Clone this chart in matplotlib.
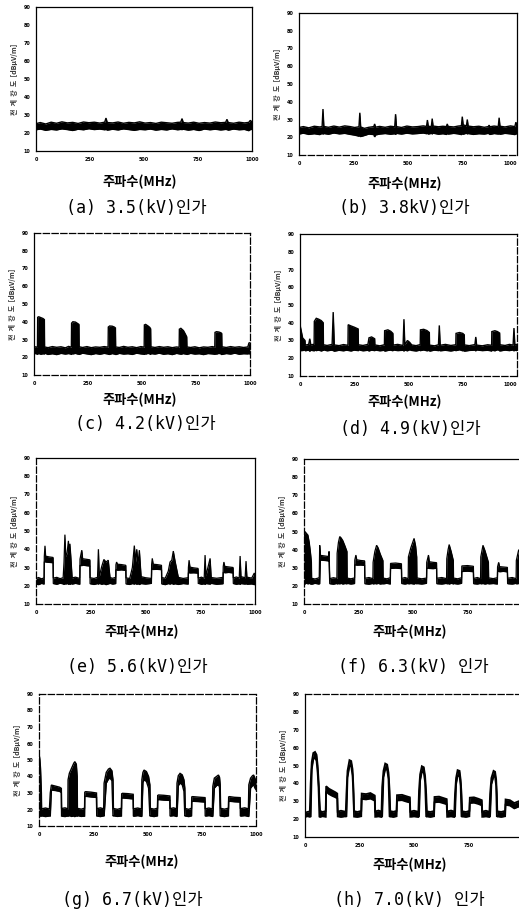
import matplotlib
matplotlib.use('Agg')
import matplotlib.pyplot as plt

plt.rcParams['font.family'] = ['Noto Sans CJK KR', 'DejaVu Sans']

# ---------------- axes / text content ----------------
freq_ticks = [0, 250, 500, 750, 1000]
freq_tick_labels = ['0', '250', '500', '750', '1000']
level_ticks = [10, 20, 30, 40, 50, 60, 70, 80, 90]
level_tick_labels = ['10', '20', '30', '40', '50', '60', '70', '80', '90']
x_label = '주파수(MHz)'
y_label = '전  계  강  도  [dBμV/m]'
captions = ['(a) 3.5(kV)인가', '(b) 3.8kV)인가', '(c) 4.2(kV)인가', '(d) 4.9(kV)인가',
            '(e) 5.6(kV)인가', '(f) 6.3(kV) 인가', '(g) 6.7(kV)인가', '(h) 7.0(kV) 인가']

# ---------------- traces: frequency, upper and lower envelope of the trace ----------------
a_x = [0, 20, 45, 70, 95, 120, 145, 170, 195, 220, 245, 270, 295, 318, 324, 330, 355, 380, 405, 430,
       455, 480, 505, 530, 555, 580, 605, 630, 655, 670, 676, 682, 705, 730, 755, 780, 805, 830, 855, 878,
       884, 890, 915, 940, 965, 985, 992, 1000]
a_hi = [25.2, 25.8, 25.0, 26.0, 25.4, 26.2, 25.6, 25.9, 25.3, 26.1, 25.7, 26.0, 25.5, 26.0, 28.3, 25.8, 25.6, 26.1, 25.4, 25.9,
        25.6, 26.2, 25.5, 25.8, 25.3, 26.0, 25.7, 25.4, 25.9, 26.0, 28.0, 25.8, 25.5, 26.0, 25.4, 25.8, 25.5, 26.1, 25.7, 25.9,
        27.6, 25.8, 25.4, 26.0, 25.6, 25.9, 27.0, 26.2]
a_lo = [21.8, 22.2, 21.5, 22.0, 21.7, 22.3, 21.9, 21.4, 22.1, 21.8, 22.4, 21.9, 22.2, 21.8, 22.0, 21.6, 22.1, 21.7, 22.3, 21.9,
        21.5, 22.0, 21.8, 22.2, 21.6, 22.0, 21.7, 22.3, 21.8, 22.0, 21.9, 22.1, 21.6, 22.0, 21.4, 22.2, 21.8, 22.1, 21.7, 22.0,
        21.9, 21.6, 22.2, 21.8, 22.0, 21.3, 21.9, 22.0]

b_x = [0, 20, 45, 70, 95, 106, 110, 114, 135, 160, 185, 210, 235, 255, 275, 279, 283, 300, 320, 343,
       347, 351, 370, 395, 420, 439, 443, 447, 470, 495, 520, 545, 570, 585, 589, 593, 607, 611, 615, 640,
       660, 676, 680, 684, 710, 730, 745, 749, 753, 768, 772, 776, 800, 825, 850, 868, 872, 876, 895, 914,
       918, 922, 945, 970, 990, 995, 1000]
b_hi = [25.5, 26.0, 25.3, 26.2, 25.8, 26.0, 35.9, 26.1, 25.6, 26.3, 25.7, 26.4, 26.0, 25.5, 25.9, 33.8, 25.8, 25.0, 25.6, 26.0,
        27.5, 25.7, 26.1, 25.6, 26.2, 25.9, 33.0, 26.0, 25.5, 26.3, 25.8, 26.0, 26.4, 26.1, 29.7, 26.2, 26.0, 30.5, 26.3, 25.9,
        26.2, 26.0, 27.5, 26.1, 25.8, 26.3, 26.5, 31.6, 27.0, 26.4, 30.0, 26.3, 25.9, 26.2, 25.6, 26.0, 26.8, 25.9, 26.3, 26.0,
        31.0, 26.2, 25.8, 26.4, 26.0, 28.5, 26.5]
b_lo = [21.8, 22.3, 21.6, 22.0, 21.5, 22.2, 21.8, 22.1, 21.7, 22.4, 21.9, 22.2, 21.6, 21.2, 20.6, 21.0, 20.4, 21.0, 21.8, 21.5,
        20.2, 21.3, 21.8, 22.1, 21.7, 22.0, 21.6, 22.2, 21.8, 22.3, 21.9, 22.1, 22.4, 22.0, 22.3, 21.8, 22.2, 21.9, 22.3, 21.7,
        22.0, 21.6, 22.1, 21.8, 22.2, 21.9, 21.5, 22.0, 21.7, 22.3, 21.9, 22.1, 21.6, 22.0, 21.8, 22.2, 21.9, 21.6, 22.1, 21.8,
        22.0, 21.7, 22.2, 21.9, 21.5, 22.0, 21.8]

c_x = [0, 8, 16, 17, 22, 32, 42, 48, 49, 65, 85, 105, 125, 145, 160, 173, 174, 180, 192, 202,
       208, 209, 225, 245, 265, 285, 305, 325, 343, 344, 350, 362, 372, 377, 378, 395, 415, 435, 455, 475,
       495, 510, 511, 517, 528, 536, 540, 541, 560, 580, 600, 620, 640, 660, 672, 673, 680, 692, 700, 707,
       708, 725, 745, 765, 785, 805, 825, 837, 838, 845, 856, 865, 869, 870, 890, 910, 930, 950, 970, 990,
       995, 1000]
c_hi = [25.3, 25.9, 25.5, 42.5, 42.8, 42.3, 41.8, 41.2, 25.8, 25.4, 26.0, 25.6, 25.9, 25.3, 26.1, 25.7, 39.2, 40.0, 39.8, 39.0,
        38.5, 25.9, 25.5, 26.0, 25.4, 25.8, 25.6, 26.0, 25.7, 37.0, 37.6, 37.5, 37.0, 36.5, 25.8, 25.5, 26.1, 25.6, 25.9, 25.4,
        26.0, 25.7, 38.2, 38.5, 37.6, 36.8, 36.0, 25.9, 25.5, 26.0, 25.6, 25.9, 25.4, 25.8, 25.6, 35.8, 36.3, 35.0, 33.2, 31.5,
        25.8, 25.5, 25.9, 25.3, 25.8, 25.6, 26.0, 25.7, 34.0, 34.4, 34.2, 33.8, 33.4, 25.9, 25.5, 26.0, 25.6, 25.9, 25.5, 25.8,
        28.0, 28.2]
c_lo = [21.8, 22.2, 21.6, 21.9, 22.1, 21.7, 22.0, 21.8, 22.3, 21.6, 22.0, 21.5, 22.2, 21.8, 22.1, 21.7, 22.0, 21.9, 22.2, 21.8,
        22.0, 21.6, 22.3, 21.9, 21.5, 22.1, 21.7, 22.2, 21.8, 22.0, 21.6, 22.1, 21.8, 22.0, 21.5, 22.2, 21.8, 22.0, 21.6, 22.3,
        21.9, 21.7, 22.0, 21.8, 22.2, 21.9, 21.6, 22.1, 21.8, 22.3, 21.7, 22.0, 21.5, 22.2, 21.9, 22.0, 21.7, 22.1, 21.8, 22.0,
        21.6, 22.2, 21.8, 22.0, 21.5, 22.1, 21.9, 21.7, 22.0, 21.8, 22.2, 21.9, 22.0, 21.6, 22.1, 21.8, 22.3, 21.7, 22.0, 21.9,
        22.1, 21.8]

d_x = [0, 3, 8, 12, 23, 24, 40, 45, 50, 65, 66, 75, 86, 98, 107, 108, 125, 148, 153, 158,
       180, 200, 221, 222, 235, 250, 268, 269, 290, 313, 318, 330, 344, 345, 368, 389, 390, 405, 418, 428,
       429, 450, 475, 479, 483, 495, 505, 515, 535, 554, 555, 570, 585, 596, 597, 620, 638, 642, 646, 670,
       695, 718, 719, 735, 750, 757, 758, 780, 806, 810, 814, 840, 865, 883, 884, 898, 910, 920, 921, 945,
       965, 982, 986, 990, 1000]
d_hi = [38.9, 37.0, 34.0, 31.5, 30.0, 27.4, 27.8, 31.0, 27.5, 27.9, 40.8, 42.5, 42.0, 41.2, 40.0, 27.6, 27.2, 27.8, 46.0, 27.5,
        27.1, 27.7, 27.3, 38.9, 38.2, 37.5, 36.5, 27.6, 27.2, 27.8, 31.5, 32.0, 31.0, 27.5, 27.0, 27.6, 35.5, 36.0, 35.2, 34.0,
        27.4, 27.8, 27.2, 42.0, 27.6, 30.0, 29.0, 27.5, 27.1, 27.7, 36.0, 36.3, 35.6, 34.5, 27.4, 27.0, 27.6, 38.5, 27.3, 27.8,
        27.2, 27.6, 34.0, 34.5, 34.0, 33.2, 27.5, 27.1, 27.7, 32.0, 27.4, 27.0, 27.6, 27.3, 35.0, 35.5, 35.0, 34.2, 27.6, 27.2,
        27.8, 27.4, 37.0, 27.6, 27.8]
d_lo = [24.5, 24.1, 24.6, 24.3, 24.8, 24.2, 24.6, 24.0, 24.5, 24.2, 24.7, 24.3, 24.6, 24.1, 24.5, 24.8, 24.2, 24.6, 24.3, 24.0,
        24.5, 24.2, 24.7, 24.4, 24.1, 24.6, 24.3, 24.8, 24.2, 24.5, 24.1, 24.6, 24.3, 24.7, 24.2, 24.5, 24.0, 24.4, 24.6, 24.2,
        24.7, 24.3, 24.5, 24.1, 24.6, 24.2, 24.8, 24.4, 24.1, 24.6, 24.3, 24.7, 24.2, 24.5, 24.0, 24.6, 24.3, 24.7, 24.2, 24.5,
        24.1, 24.6, 24.3, 24.8, 24.2, 24.5, 24.0, 24.4, 24.6, 24.2, 24.7, 24.3, 24.5, 24.1, 24.6, 24.2, 24.8, 24.4, 24.1, 24.6,
        24.3, 24.7, 24.2, 24.5, 24.3]

e_x = [0, 12, 25, 37, 38, 41, 44, 60, 78, 79, 95, 110, 124, 128, 132, 136, 142, 148, 152, 155,
       160, 165, 180, 200, 201, 209, 213, 230, 246, 247, 265, 281, 285, 289, 300, 310, 320, 330, 338, 350,
       364, 365, 368, 372, 390, 410, 411, 428, 440, 449, 455, 460, 466, 472, 480, 500, 527, 528, 531, 535,
       552, 573, 574, 590, 604, 612, 620, 627, 635, 650, 672, 695, 696, 699, 703, 720, 740, 741, 756, 768,
       772, 776, 795, 800, 825, 854, 855, 858, 862, 880, 900, 901, 915, 928, 932, 936, 955, 959, 963, 985,
       997, 1000]
e_hi = [24.0, 24.5, 23.8, 24.3, 36.0, 41.9, 36.2, 35.8, 35.5, 24.2, 24.6, 23.9, 24.4, 33.0, 48.0, 36.0, 38.0, 44.6, 37.0, 43.0,
        34.0, 24.3, 24.7, 24.0, 34.6, 39.5, 34.8, 34.5, 34.2, 24.4, 24.0, 24.6, 40.0, 25.0, 30.5, 34.4, 33.0, 34.0, 24.5, 24.1,
        24.6, 31.5, 33.0, 31.8, 31.6, 31.2, 24.3, 24.0, 30.0, 42.0, 33.0, 40.0, 32.0, 39.5, 25.0, 24.4, 24.0, 31.6, 35.0, 31.8,
        31.6, 31.2, 24.5, 24.1, 28.0, 33.0, 34.0, 39.0, 33.5, 24.6, 24.0, 24.4, 30.0, 34.0, 30.2, 29.8, 29.5, 24.2, 24.7, 24.0,
        36.8, 25.5, 35.0, 24.5, 24.1, 24.6, 30.5, 33.0, 30.6, 30.3, 30.0, 24.3, 24.8, 24.2, 36.3, 25.0, 24.4, 33.5, 24.7, 24.2,
        27.0, 24.5]
e_lo = [21.0, 20.6, 21.3, 20.9, 33.0, 33.2, 33.0, 32.8, 32.6, 21.2, 20.8, 21.4, 21.0, 20.7, 21.2, 20.9, 21.3, 20.8, 21.1, 20.7,
        21.2, 20.9, 21.3, 20.8, 31.2, 31.0, 31.3, 31.0, 30.8, 21.1, 20.7, 21.2, 20.9, 21.3, 20.8, 21.1, 20.6, 21.0, 21.3, 20.9,
        21.2, 28.6, 28.8, 28.5, 28.7, 28.4, 21.0, 20.7, 21.2, 20.9, 21.3, 20.8, 21.1, 20.7, 21.2, 20.9, 21.3, 29.0, 29.2, 28.9,
        29.0, 28.8, 21.0, 20.6, 21.2, 20.9, 21.3, 20.8, 21.1, 20.7, 21.2, 20.9, 27.0, 27.2, 27.0, 27.1, 26.9, 21.3, 20.8, 21.1,
        20.7, 21.2, 20.9, 21.3, 20.8, 21.1, 27.2, 27.4, 27.1, 27.3, 27.0, 21.2, 20.8, 21.1, 20.7, 21.2, 20.9, 21.3, 20.8, 21.0,
        20.6, 21.1]

f_x = [0, 4, 11, 18, 24, 30, 34, 35, 50, 68, 70, 72, 75, 77, 95, 112, 115, 118, 135, 151,
       152, 158, 164, 170, 178, 188, 197, 198, 215, 232, 233, 238, 242, 260, 278, 279, 298, 316, 317, 325,
       333, 340, 350, 362, 363, 380, 396, 397, 420, 447, 448, 463, 478, 479, 490, 505, 512, 517, 518, 540,
       562, 563, 571, 575, 592, 608, 609, 632, 654, 655, 661, 666, 675, 685, 686, 705, 723, 724, 750, 777,
       778, 795, 810, 811, 821, 830, 846, 847, 868, 887, 888, 893, 897, 915, 933, 934, 955, 973, 974, 985,
       993, 1000]
f_hi = [46.0, 50.0, 49.0, 48.0, 44.0, 38.0, 33.0, 24.2, 23.8, 24.4, 25.0, 42.4, 37.0, 36.8, 36.5, 36.2, 39.0, 24.0, 24.5, 24.1,
        38.0, 44.0, 47.2, 46.5, 45.0, 42.0, 39.0, 24.3, 23.9, 24.4, 34.2, 37.0, 34.4, 34.0, 33.8, 24.2, 24.6, 24.0, 33.0, 39.0,
        42.4, 41.0, 37.5, 34.0, 24.3, 23.9, 24.5, 32.4, 32.6, 32.2, 24.1, 24.6, 24.0, 36.0, 41.0, 46.2, 42.0, 36.0, 24.4, 23.9,
        24.3, 33.0, 37.0, 33.3, 33.0, 32.8, 24.2, 24.6, 24.0, 35.0, 40.0, 42.8, 39.0, 34.0, 24.3, 23.9, 24.5, 31.0, 31.2, 30.8,
        24.1, 24.6, 24.0, 36.0, 42.4, 39.5, 33.0, 24.4, 24.0, 24.5, 30.5, 33.0, 30.6, 30.4, 30.2, 24.2, 24.6, 24.0, 34.0, 40.0,
        37.0, 35.0]
f_lo = [21.3, 21.0, 21.5, 21.1, 21.4, 21.0, 21.3, 20.9, 21.4, 21.0, 21.3, 21.1, 34.0, 34.2, 34.0, 33.8, 34.0, 21.2, 20.9, 21.4,
        21.0, 21.3, 21.1, 21.4, 21.0, 21.3, 21.1, 21.4, 21.0, 21.3, 31.5, 31.6, 31.4, 31.5, 31.3, 21.2, 20.9, 21.4, 21.0, 21.3,
        21.1, 21.4, 21.0, 21.3, 21.1, 21.4, 21.0, 29.6, 29.8, 29.5, 21.3, 21.0, 21.4, 21.1, 21.3, 21.0, 21.4, 21.1, 21.3, 21.0,
        21.4, 29.6, 29.8, 29.6, 29.5, 29.7, 21.2, 21.0, 21.4, 21.1, 21.3, 21.0, 21.4, 21.1, 21.3, 21.0, 21.4, 27.9, 28.1, 27.8,
        21.2, 21.0, 21.4, 21.1, 21.3, 21.0, 21.4, 21.1, 21.3, 21.0, 27.9, 28.0, 27.8, 28.0, 27.7, 21.2, 21.0, 21.4, 21.1, 21.3,
        21.0, 21.2]

g_x = [0, 3, 7, 11, 12, 30, 48, 52, 57, 75, 95, 103, 104, 120, 133, 134, 140, 150, 160, 165,
       172, 176, 177, 195, 210, 211, 215, 240, 265, 266, 283, 298, 300, 310, 320, 327, 336, 341, 343, 362,
       380, 381, 385, 410, 434, 435, 455, 472, 474, 479, 484, 495, 505, 511, 513, 530, 546, 547, 551, 575,
       603, 604, 620, 634, 636, 642, 650, 660, 668, 672, 674, 690, 703, 704, 708, 735, 765, 766, 783, 799,
       801, 808, 818, 827, 832, 835, 837, 855, 873, 874, 878, 900, 927, 928, 948, 965, 967, 975, 984, 989,
       995, 1000]
g_hi = [44.0, 52.0, 45.0, 30.0, 20.4, 20.9, 20.3, 30.0, 34.8, 34.2, 33.5, 32.8, 20.6, 21.0, 20.4, 38.0, 42.0, 45.0, 48.0, 49.0,
        47.5, 40.0, 20.7, 20.2, 20.8, 30.5, 30.8, 30.5, 30.0, 20.5, 21.0, 20.4, 36.0, 42.5, 44.5, 45.0, 43.5, 38.0, 20.6, 20.1,
        20.8, 29.5, 29.8, 29.6, 29.2, 20.4, 20.9, 20.3, 38.0, 42.5, 43.9, 43.0, 40.0, 35.0, 20.7, 20.2, 20.8, 28.5, 28.8, 28.6,
        28.2, 20.5, 21.0, 20.4, 36.0, 40.5, 41.9, 41.0, 38.0, 33.0, 20.6, 20.1, 20.8, 27.6, 27.8, 27.5, 27.2, 20.4, 20.9, 20.3,
        34.0, 39.0, 40.0, 40.9, 39.5, 35.0, 20.7, 20.2, 20.8, 27.6, 27.8, 27.4, 27.2, 20.5, 21.0, 20.4, 35.0, 39.0, 40.5, 40.9,
        39.0, 37.0]
g_lo = [16.0, 15.8, 16.3, 15.9, 16.2, 15.7, 16.1, 16.0, 31.8, 31.5, 31.0, 30.2, 16.0, 15.7, 16.2, 15.9, 16.3, 15.8, 16.1, 15.7,
        16.2, 15.9, 16.3, 15.8, 16.0, 27.8, 28.0, 27.6, 27.3, 16.1, 15.7, 16.2, 16.0, 36.0, 38.5, 39.0, 37.5, 16.0, 16.2, 15.8,
        16.1, 26.8, 27.0, 26.7, 26.4, 15.9, 16.3, 15.8, 16.0, 36.5, 38.0, 37.0, 33.0, 16.0, 16.1, 15.7, 16.2, 25.8, 26.0, 25.7,
        25.5, 16.0, 16.3, 15.8, 16.0, 34.5, 36.0, 35.0, 31.0, 16.0, 16.1, 15.7, 16.2, 24.7, 25.0, 24.8, 24.5, 16.0, 16.3, 15.8,
        16.0, 33.0, 34.5, 35.0, 33.5, 16.0, 16.1, 15.7, 16.2, 24.7, 25.0, 24.7, 24.5, 16.0, 16.3, 15.8, 16.0, 33.0, 34.5, 35.0,
        33.0, 32.0]

h_x = [0, 10, 22, 26, 31, 38, 46, 53, 58, 62, 66, 69, 80, 95, 97, 110, 125, 140, 148, 150,
       165, 187, 190, 195, 204, 212, 218, 222, 225, 240, 258, 260, 280, 300, 320, 322, 337, 351, 354, 360,
       368, 377, 383, 388, 391, 405, 420, 422, 445, 465, 481, 483, 500, 520, 523, 528, 536, 545, 551, 556,
       559, 575, 592, 594, 615, 635, 650, 652, 670, 685, 688, 693, 700, 709, 714, 718, 721, 738, 754, 756,
       775, 795, 811, 813, 830, 846, 849, 855, 865, 872, 877, 880, 882, 900, 918, 920, 940, 960, 980, 1000]
h_hi = [23.5, 24.0, 24.3, 40.0, 52.0, 57.0, 57.6, 56.0, 50.0, 42.0, 32.0, 24.6, 24.0, 24.5, 38.4, 37.0, 36.0, 35.0, 34.3, 24.2,
        24.7, 24.1, 34.0, 47.0, 53.0, 52.5, 48.0, 38.0, 24.5, 24.0, 24.6, 34.3, 34.0, 34.6, 33.2, 24.3, 24.8, 24.2, 38.0, 47.0,
        51.1, 50.5, 46.0, 36.0, 24.5, 24.1, 24.6, 33.4, 33.6, 32.8, 32.2, 24.2, 24.7, 24.1, 36.0, 45.0, 49.6, 49.0, 44.0, 34.0,
        24.4, 24.0, 24.5, 32.4, 32.6, 31.8, 31.2, 24.3, 24.8, 24.2, 34.0, 43.0, 47.4, 47.0, 42.0, 34.0, 24.4, 24.0, 24.6, 32.0,
        32.2, 31.4, 30.6, 24.2, 24.7, 24.1, 34.0, 43.0, 47.0, 46.5, 42.0, 34.0, 24.4, 24.0, 24.6, 31.0, 30.6, 29.0, 30.0, 29.4]
h_lo = [21.2, 21.6, 21.3, 21.5, 48.0, 53.5, 54.5, 52.5, 46.0, 38.0, 21.4, 21.2, 21.6, 21.3, 35.4, 34.0, 33.0, 32.2, 31.5, 21.5,
        21.2, 21.6, 21.3, 43.5, 49.8, 49.5, 44.5, 34.5, 21.4, 21.2, 21.6, 31.3, 31.0, 31.5, 30.3, 21.3, 21.5, 21.2, 21.6, 43.5,
        48.0, 47.5, 42.5, 21.3, 21.5, 21.2, 21.6, 30.4, 30.6, 29.8, 29.3, 21.3, 21.5, 21.2, 21.6, 41.5, 46.5, 46.0, 40.5, 21.3,
        21.5, 21.2, 21.6, 29.4, 29.6, 28.9, 28.3, 21.3, 21.5, 21.2, 21.6, 39.5, 44.3, 44.0, 38.5, 21.3, 21.5, 21.2, 21.6, 29.0,
        29.2, 28.5, 27.7, 21.3, 21.5, 21.2, 21.6, 39.5, 44.0, 43.5, 38.5, 21.3, 21.5, 21.2, 21.6, 28.0, 27.6, 26.0, 27.0, 26.4]

traces = [(a_x, a_hi, a_lo), (b_x, b_hi, b_lo), (c_x, c_hi, c_lo), (d_x, d_hi, d_lo),
          (e_x, e_hi, e_lo), (f_x, f_hi, f_lo), (g_x, g_hi, g_lo), (h_x, h_hi, h_lo)]

# ---------------- layout (pixels) ----------------
W, H = 519, 909
# left, top, right, bottom of each plot box
boxes = [(36, 7, 252, 151), (299, 13, 517, 155),
         (34, 233, 250, 375), (300, 234, 517, 376),
         (36, 458, 255, 604), (304, 459, 522, 604),
         (39, 694, 256, 826), (305, 694, 523, 837)]
xlabel_pos = [(140, 182), (405, 184), (140, 400), (405, 402),
              (142, 632), (410, 632), (142, 862), (410, 865)]
caption_pos = [(136, 208), (404, 208), (145, 424), (410, 429),
               (137, 667), (413, 667), (132, 900), (409, 900)]
solid, dash = '-', (0, (5, 2))
spine_styles = [
    dict(top=solid, bottom=solid, left=solid, right=solid),
    dict(top=solid, bottom=dash, left=solid, right=solid),
    dict(top=dash, bottom=dash, left=solid, right=dash),
    dict(top=solid, bottom=dash, left=solid, right=dash),
    dict(top=solid, bottom=dash, left=dash, right=solid),
    dict(top=solid, bottom=dash, left=dash, right=solid),
    dict(top=dash, bottom=dash, left=dash, right=dash),
    dict(top=dash, bottom=solid, left=solid, right=solid),
]
trace_lw = [1.0, 1.0, 1.0, 1.0, 0.9, 0.9, 1.0, 1.3]

fig = plt.figure(figsize=(W / 100, H / 100), dpi=100)
fig.patch.set_facecolor('white')

for i, ((x, hi, lo), (l, t, r, b)) in enumerate(zip(traces, boxes)):
    assert len(x) == len(hi) == len(lo), (i, len(x), len(hi), len(lo))
    ax = fig.add_axes([l / W, 1 - b / H, (r - l) / W, (b - t) / H])
    ax.fill_between(x, lo, hi, color='black', linewidth=0)
    ax.plot(x, hi, color='black', lw=trace_lw[i], solid_joinstyle='miter')
    ax.plot(x, lo, color='black', lw=trace_lw[i], solid_joinstyle='miter')
    ax.set_xlim(0, 1000)
    ax.set_ylim(10, 90)
    ax.set_xticks(freq_ticks)
    xt = ax.set_xticklabels(freq_tick_labels, fontsize=3.5, fontweight='bold', family=['DejaVu Sans'])
    ax.set_yticks(level_ticks)
    ax.set_yticklabels(level_tick_labels, fontsize=3.5, fontweight='bold', family=['DejaVu Sans'])
    ax.tick_params(length=0, pad=4)
    if r > 510:
        if r > 519:
            xt[-1].set_visible(False)   # falls beyond the page edge, as in the scan
        else:
            xt[-1].set_horizontalalignment('right')
    for side, ls in spine_styles[i].items():
        ax.spines[side].set_linestyle(ls)
        ax.spines[side].set_linewidth(0.9)
    ax.set_ylabel(y_label, fontsize=5, color='#333333', labelpad=4, fontweight='bold')
    xl, yl = xlabel_pos[i]
    fig.text(xl / W, 1 - yl / H, x_label, ha='center', va='center', fontsize=9.5, fontweight='bold')
    xc, yc = caption_pos[i]
    fig.text(xc / W, 1 - yc / H, captions[i], ha='center', va='center', fontsize=12,
             family=['DejaVu Sans Mono', 'Noto Sans CJK KR'])

fig.savefig('out.png', dpi=100, facecolor='white')
